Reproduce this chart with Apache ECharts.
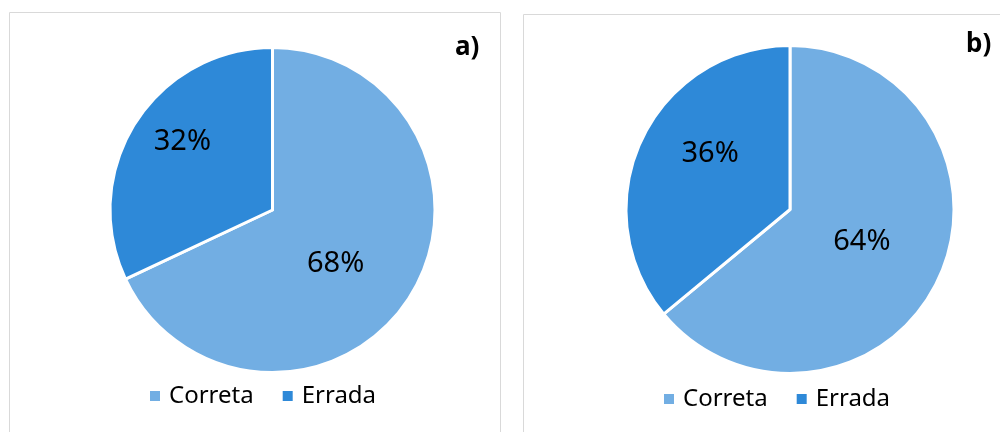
<!DOCTYPE html>
<html>
<head>
<meta charset="utf-8">
<script src="https://cdn.jsdelivr.net/npm/echarts@6/dist/echarts.min.js"></script>
<style>html,body{margin:0;padding:0;background:#fff}#c{width:1000px;height:432px}</style>
</head>
<body>
<div id="c"></div>
<script>
const categories = ['Correta', 'Errada'];
const valuesA = [68, 32];
const valuesB = [64, 36];
const panelTitles = ['a)', 'b)'];

const colors = ['#72AEE3', '#2E89D8'];
const FONT = '"Noto Sans", "DejaVu Sans", sans-serif';

// small label nudges (Excel best-fit placement), per panel, per slice
const nudgeA = [[-8, 9], [-19, -23]];
const nudgeB = [[-5, -4], [-3, -20]];

function pie(values, center, radius, nudge) {
  return {
    type: 'pie',
    center: center,
    radius: radius,
    startAngle: 90,
    clockwise: true,
    avoidLabelOverlap: false,
    itemStyle: { borderColor: '#fff', borderWidth: 3 },
    label: {
      show: true,
      position: 'inside',
      formatter: '{d}%',
      fontFamily: FONT,
      fontSize: 29,
      color: '#000'
    },
    labelLayout: function (p) { const n = nudge[p.dataIndex]; return { dx: n[0], dy: n[1] }; },
    emphasis: { disabled: true },
    data: categories.map((c, i) => ({ name: c, value: values[i] }))
  };
}

function legend(left, top) {
  return {
    left: left, top: top, padding: 0, itemGap: 27,
    itemWidth: 12, itemHeight: 12, icon: 'rect',
    selectedMode: false,
    textStyle: { fontFamily: FONT, fontSize: 24, color: '#000', padding: [0, 0, 0, 3] },
    data: categories
  };
}

const chart = echarts.init(document.getElementById('c'), null, { renderer: 'canvas' });
chart.setOption({
  animation: false,
  color: colors,
  title: [
    { text: panelTitles[0], left: 455, top: 35, padding: 0, textStyle: { fontFamily: FONT, fontWeight: 'bold', fontSize: 26, color: '#000' } },
    { text: panelTitles[1], left: 966, top: 32, padding: 0, textStyle: { fontFamily: FONT, fontWeight: 'bold', fontSize: 26, color: '#000' } }
  ],
  legend: [legend(148, 384), legend(662, 387)],
  graphic: [
    { type: 'rect', shape: { x: 9.5, y: 12.5, width: 491, height: 440 }, style: { fill: 'none', stroke: '#D9D9D9', lineWidth: 1 }, z: -1 },
    { type: 'rect', shape: { x: 523.5, y: 14.5, width: 490, height: 440 }, style: { fill: 'none', stroke: '#D9D9D9', lineWidth: 1 }, z: -1 }
  ],
  series: [
    pie(valuesA, [272.5, 210], 162.5, nudgeA),
    pie(valuesB, [790, 209.5], 164, nudgeB)
  ]
});
</script>
</body>
</html>
